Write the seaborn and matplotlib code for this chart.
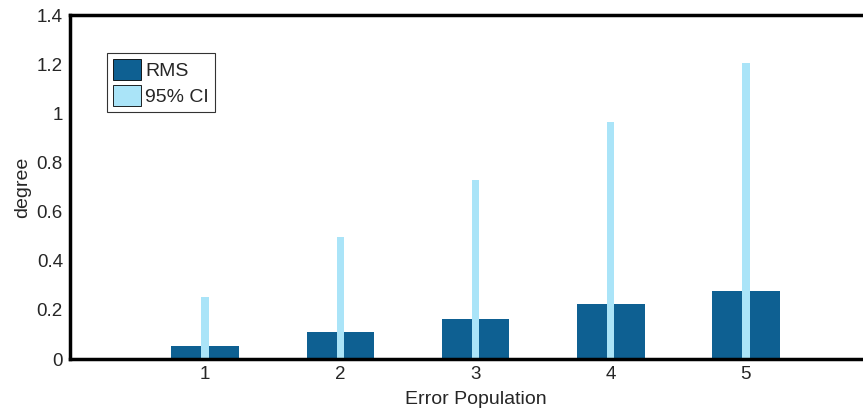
import numpy as np
import pandas as pd
import matplotlib
matplotlib.use('Agg')
import matplotlib.pyplot as plt
import seaborn as sns
from matplotlib.patches import Patch

populations = [1, 2, 3, 4, 5]
rms = [0.053, 0.11, 0.164, 0.224, 0.276]
ci95 = [0.254, 0.497, 0.73, 0.965, 1.206]

dark_blue = '#0e6092'
light_blue = '#aae4f8'

sns.set_style('white')
plt.rcParams['font.family'] = ['Liberation Sans', 'DejaVu Sans']

df = pd.DataFrame({'pop': populations, 'RMS': rms, 'CI': ci95})

fig = plt.figure(figsize=(8.63, 4.18), dpi=100)
ax = fig.add_axes([0.081, 0.141, 0.94, 0.823])

sns.barplot(data=df, x='pop', y='RMS', native_scale=True, width=0.5,
            color=dark_blue, saturation=1, linewidth=0, ax=ax)
sns.barplot(data=df, x='pop', y='CI', native_scale=True, width=0.055,
            color=light_blue, saturation=1, linewidth=0, ax=ax)

ax.set_xlim(0, 6)
ax.set_ylim(0, 1.4)
ax.set_xticks(populations)
ax.set_yticks(np.arange(0, 1.41, 0.2))
ax.set_yticklabels(['0', '0.2', '0.4', '0.6', '0.8', '1', '1.2', '1.4'])
ax.set_xlabel('Error Population', fontsize=14, labelpad=6)
ax.set_ylabel('degree', fontsize=14, labelpad=4)
ax.tick_params(labelsize=13.5, length=0, pad=5)

for s in ['top', 'left', 'bottom']:
    ax.spines[s].set_color('black')
    ax.spines[s].set_linewidth(2.5)
ax.spines['right'].set_visible(False)

handles = [Patch(facecolor=dark_blue, edgecolor='black', linewidth=0.6, label='RMS'),
           Patch(facecolor=light_blue, edgecolor='black', linewidth=0.6, label='95% CI')]
leg = ax.legend(handles=handles, loc='upper left', bbox_to_anchor=(0.046, 0.89),
                fontsize=14, frameon=True, fancybox=False, handlelength=1.45,
                handleheight=1.3, handletextpad=0.2, labelspacing=0.25,
                borderpad=0.3, borderaxespad=0)
leg.get_frame().set_edgecolor('black')
leg.get_frame().set_linewidth(0.8)

fig.savefig('out.png', dpi=100)
